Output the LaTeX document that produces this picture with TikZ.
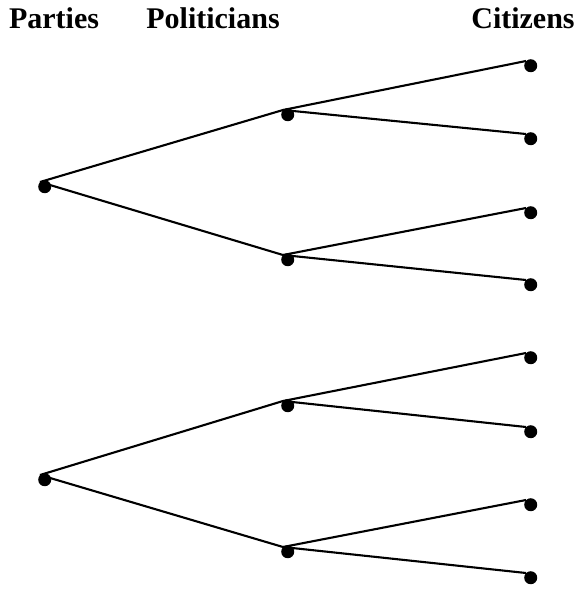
\documentclass[tikz,border=0pt]{standalone}
\usepackage{fontspec}
\setmainfont{Liberation Serif}
\usepackage{tikz}
\usetikzlibrary{positioning}

\begin{document}
\begin{tikzpicture}[
    x=1pt, y=-1pt,
    dot/.style={circle, fill=black, inner sep=0pt, minimum size=13pt, anchor=north west},
    title/.style={anchor=base, font=\fontsize{30}{32}\selectfont\bfseries},
    edge/.style={line width=2.1pt, color=black}
]
\useasboundingbox (0,0) rectangle (584,590);

\node[title] (tpar) at (54,28) {Parties};
\node[title] (tpol) at (213,28) {Politicians};
\node[title] (tcit) at (523,28) {Citizens};

\node[dot] (par1) at (40,182) {};
\node[dot] (par2) at (40,475) {};

\node[dot] (pol1) at (283,110) {};
\node[dot] (pol2) at (283,255) {};
\node[dot] (pol3) at (283,401) {};
\node[dot] (pol4) at (283,547) {};

\node[dot] (cit1) at (526,61) {};
\node[dot] (cit2) at (526,134) {};
\node[dot] (cit3) at (526,208) {};
\node[dot] (cit4) at (526,280) {};
\node[dot] (cit5) at (526,353) {};
\node[dot] (cit6) at (526,427) {};
\node[dot] (cit7) at (526,500) {};
\node[dot] (cit8) at (526,573) {};

\draw[edge] (par1.north west) -- (pol1.north west);
\draw[edge] (par1.north west) -- (pol2.north west);
\draw[edge] (par2.north west) -- (pol3.north west);
\draw[edge] (par2.north west) -- (pol4.north west);

\draw[edge] (pol1.north west) -- (cit1.north west);
\draw[edge] (pol1.north west) -- (cit2.north west);
\draw[edge] (pol2.north west) -- (cit3.north west);
\draw[edge] (pol2.north west) -- (cit4.north west);
\draw[edge] (pol3.north west) -- (cit5.north west);
\draw[edge] (pol3.north west) -- (cit6.north west);
\draw[edge] (pol4.north west) -- (cit7.north west);
\draw[edge] (pol4.north west) -- (cit8.north west);
\end{tikzpicture}
\end{document}
